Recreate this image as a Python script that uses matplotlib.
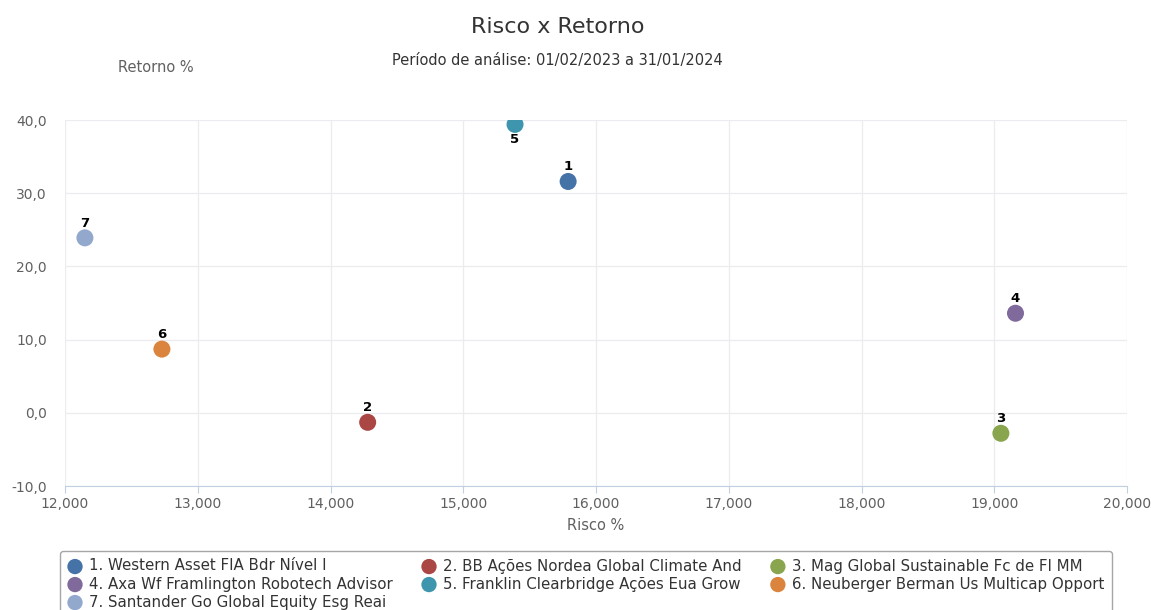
import matplotlib
matplotlib.use("Agg")
import matplotlib.pyplot as plt
from matplotlib.ticker import FuncFormatter, MultipleLocator

names = [
    "1. Western Asset FIA Bdr Nível I",
    "2. BB Ações Nordea Global Climate And",
    "3. Mag Global Sustainable Fc de FI MM",
    "4. Axa Wf Framlington Robotech Advisor",
    "5. Franklin Clearbridge Ações Eua Grow",
    "6. Neuberger Berman Us Multicap Opport",
    "7. Santander Go Global Equity Esg Reai",
]
labels = ["1", "2", "3", "4", "5", "6", "7"]
risco = [15.79, 14.28, 19.05, 19.16, 15.39, 12.73, 12.15]
retorno = [31.6, -1.3, -2.8, 13.6, 39.4, 8.7, 23.9]
colors = ["#4572A7", "#AA4643", "#89A54E", "#80699B", "#3D96AE", "#DB843D", "#92A8CD"]
label_below = [False, False, False, False, True, False, False]

W, H = 1151, 610
fig = plt.figure(figsize=(W / 100, H / 100), dpi=100)
ax = fig.add_axes([65 / W, 1 - 486 / H, (1127 - 65) / W, (486 - 120) / H])

handles = []
for i in range(len(names)):
    h = ax.scatter(risco[i], retorno[i], s=150, color=colors[i], zorder=3,
                   edgecolors="none", label=names[i])
    handles.append(h)
    if label_below[i]:
        ax.annotate(labels[i], (risco[i], retorno[i]), xytext=(0, -6),
                    textcoords="offset points", ha="center", va="top",
                    fontsize=9.5, fontweight="bold", color="black", zorder=4)
    else:
        ax.annotate(labels[i], (risco[i], retorno[i]), xytext=(0, 6),
                    textcoords="offset points", ha="center", va="bottom",
                    fontsize=9.5, fontweight="bold", color="black", zorder=4)

ax.set_xlim(12, 20)
ax.set_ylim(-10, 40)
ax.xaxis.set_major_locator(MultipleLocator(1))
ax.yaxis.set_major_locator(MultipleLocator(10))
ax.xaxis.set_major_formatter(FuncFormatter(lambda v, p: f"{v:.3f}".replace(".", ",")))
ax.yaxis.set_major_formatter(FuncFormatter(lambda v, p: f"{v:.1f}".replace(".", ",")))
ax.grid(True, color="#EBEBF0", linewidth=0.9)
ax.set_axisbelow(True)
for s in ["top", "right", "left"]:
    ax.spines[s].set_visible(False)
ax.spines["bottom"].set_color("#C0D0E0")
ax.tick_params(axis="both", colors="#606060", labelsize=10, length=0)
ax.tick_params(axis="x", length=5, color="#C0D0E0", pad=3)
ax.tick_params(axis="y", pad=13)

fig.text(558 / W, 1 - 27 / H, "Risco x Retorno", ha="center", va="center",
         fontsize=16, color="#333333")
fig.text(557 / W, 1 - 60 / H, "Período de análise: 01/02/2023 a 31/01/2024",
         ha="center", va="center", fontsize=10.5, color="#333333")
fig.text(156 / W, 1 - 68 / H, "Retorno %", ha="center", va="center",
         fontsize=10.5, color="#606060")
fig.text(596 / W, 1 - 526 / H, "Risco %", ha="center", va="center",
         fontsize=10.5, color="#606060")

order = [0, 3, 6, 1, 4, 2, 5]
leg = fig.legend([handles[i] for i in order], [names[i] for i in order],
                 ncol=3, loc="upper left", bbox_to_anchor=(60 / W, 1 - 551 / H),
                 fontsize=10.8, frameon=True, fancybox=True, edgecolor="#909090",
                 handletextpad=0.45, columnspacing=1.9, labelspacing=0.2,
                 borderpad=0.5, borderaxespad=0, handlelength=1.0, markerscale=0.9)
for t in leg.get_texts():
    t.set_color("#333333")

fig.savefig("out.png", dpi=100)
